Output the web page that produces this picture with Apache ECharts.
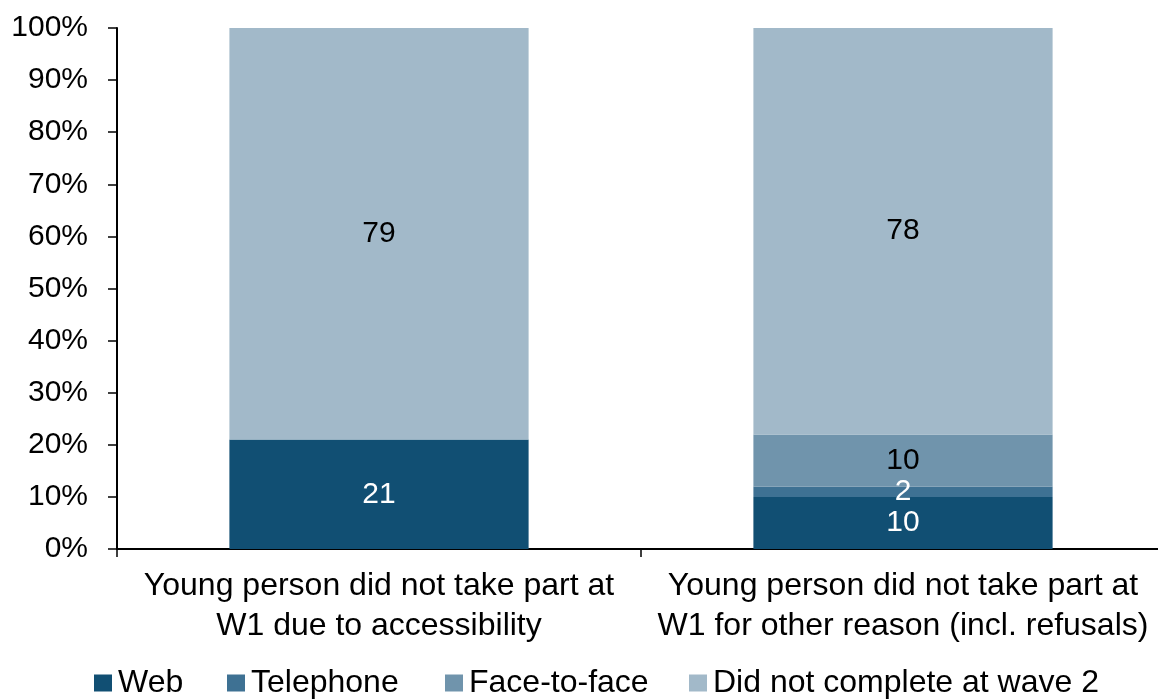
<!DOCTYPE html>
<html>
<head>
<meta charset="utf-8">
<script src="https://cdn.jsdelivr.net/npm/echarts@6/dist/echarts.min.js"></script>
<style>
  html, body { margin: 0; padding: 0; background: #ffffff; }
  #chart { width: 1158px; height: 700px; }
</style>
</head>
<body>
<div id="chart"></div>
<script>
// Categories and stacked percentages per mode of completion at wave 2
const categories = [
  'Young person did not take part at\nW1 due to accessibility',
  'Young person did not take part at\nW1 for other reason (incl. refusals)'
];
const web = [21, 10];
const telephone = [0, 2];
const faceToFace = [0, 10];
const didNotComplete = [79, 78];
const yTicks = [0, 10, 20, 30, 40, 50, 60, 70, 80, 90, 100];

const seriesDefs = [
  { name: 'Web', data: web, color: '#114f73', labelColor: '#ffffff' },
  { name: 'Telephone', data: telephone, color: '#3e7193', labelColor: '#ffffff' },
  { name: 'Face-to-face', data: faceToFace, color: '#7094ac', labelColor: '#000000' },
  { name: 'Did not complete at wave 2', data: didNotComplete, color: '#a2b9c9', labelColor: '#000000' }
];

const FONT = 'Liberation Sans, Arial, sans-serif';
const legendLefts = [94, 227, 445, 689];

const chart = echarts.init(document.getElementById('chart'), null, { renderer: 'canvas' });

chart.setOption({
  animation: false,
  backgroundColor: '#ffffff',
  textStyle: { fontFamily: FONT },
  grid: {
    left: 117, top: 28, width: 1048, height: 521,
    containLabel: false,
    outerBoundsMode: 'none'
  },
  // one legend entry per component so each key sits at its own position
  legend: seriesDefs.map((s, i) => ({
    top: 667,
    left: legendLefts[i],
    padding: 0,
    itemWidth: 18,
    itemHeight: 17,
    icon: 'rect',
    textStyle: { fontSize: 32, color: '#000000', fontFamily: FONT, padding: [0, 0, 0, 1] },
    data: [s.name]
  })),
  xAxis: {
    type: 'category',
    data: categories,
    axisLine: { show: true, lineStyle: { color: '#000000', width: 2 } },
    axisTick: { show: true, alignWithLabel: false, length: 8, lineStyle: { color: '#000000', width: 1.5 } },
    axisLabel: {
      interval: 0,
      color: '#000000',
      fontSize: 32,
      lineHeight: 40,
      margin: 17,
      fontFamily: FONT
    }
  },
  yAxis: {
    type: 'value',
    min: yTicks[0],
    max: yTicks[yTicks.length - 1],
    interval: 10,
    axisLine: { show: true, lineStyle: { color: '#000000', width: 2 } },
    axisTick: { show: true, inside: false, length: 9, lineStyle: { color: '#000000', width: 1.5 } },
    splitLine: { show: false },
    axisLabel: {
      color: '#000000',
      fontSize: 30,
      margin: 29,
      fontFamily: FONT,
      formatter: '{value}%'
    }
  },
  series: seriesDefs.map(s => ({
    name: s.name,
    type: 'bar',
    stack: 'total',
    barWidth: '57.1%',
    data: s.data,
    itemStyle: { color: s.color },
    label: {
      show: true,
      position: 'inside',
      color: s.labelColor,
      fontSize: 30,
      fontFamily: FONT,
      formatter: p => (p.value > 0 ? String(p.value) : '')
    }
  }))
});
</script>
</body>
</html>
